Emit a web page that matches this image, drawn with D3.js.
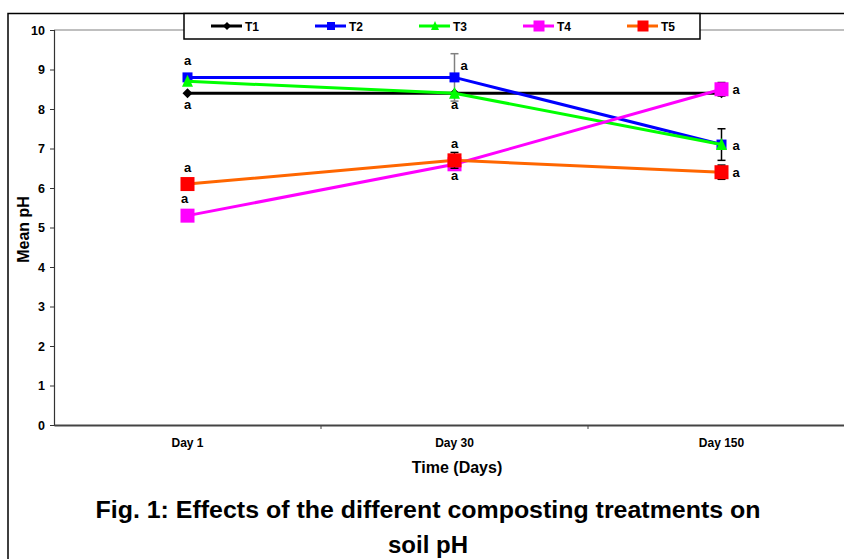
<!DOCTYPE html>
<html>
<head>
<meta charset="utf-8">
<title>Soil pH</title>
<script src="https://cdn.jsdelivr.net/npm/d3@7"></script>
<style>
  html, body { margin: 0; background: #fff; overflow: hidden; }
  svg { display: block; font-family: "Liberation Sans", Arial, sans-serif; font-weight: bold; }
</style>
</head>
<body>
<svg id="chart" width="844" height="559"></svg>
<script>
// data
const days = ["Day 1", "Day 30", "Day 150"];
const seriesNames = ["T1", "T2", "T3", "T4", "T5"];
const t1 = [8.4, 8.4, 8.4];
const t2 = [8.8, 8.8, 7.1];
const t3 = [8.7, 8.4, 7.1];
const t4 = [5.3, 6.6, 8.5];
const t5 = [6.1, 6.7, 6.4];
const t2Err = [0, 0.6, 0];
const t3Err = [0, 0, 0.4];
const t4Err = [0, 0, 0.17];
const t5Err = [0, 0.2, 0.18];
const yTicks = [0, 1, 2, 3, 4, 5, 6, 7, 8, 9, 10];
// significance letters: series, day index, where
const letters = [
  ["T2", 0, "above"], ["T1", 0, "below"], ["T5", 0, "above"], ["T4", 0, "aboveLeft"],
  ["T2", 1, "errRight"], ["T3", 1, "below"], ["T5", 1, "above"], ["T4", 1, "below"],
  ["T4", 2, "right"], ["T3", 2, "right"], ["T5", 2, "right"]
];

const series = [
  { name: "T1", values: t1, err: [0, 0, 0], line: "#000000", fill: "#000000", shape: "diamond", size: 10, errColor: "#000" },
  { name: "T2", values: t2, err: t2Err, line: "#0000ff", fill: "#0000ff", shape: "square", size: 10, errColor: "#808080" },
  { name: "T3", values: t3, err: t3Err, line: "#00ff00", fill: "#00ff00", shape: "triangle", size: 11, errColor: "#000" },
  { name: "T4", values: t4, err: t4Err, line: "#ff00ff", fill: "#ff00ff", shape: "square", size: 14, errColor: "#000" },
  { name: "T5", values: t5, err: t5Err, line: "#ff6600", fill: "#ff0000", shape: "square", size: 14, errColor: "#000" }
];

const svg = d3.select("#chart");
const plot = { left: 54, right: 855, top: 30, bottom: 425 };

const x = d3.scaleBand().domain(days).range([plot.left, plot.right]);
const y = d3.scaleLinear().domain([0, 10]).range([plot.bottom, plot.top]);
const cx = d => x(d) + x.bandwidth() / 2;

// figure frame
svg.append("path")
  .attr("d", `M8,559 V13.5 H844`)
  .attr("fill", "none").attr("stroke", "#000").attr("stroke-width", 1.5);

// plot area top edge
svg.append("line")
  .attr("x1", plot.left).attr("x2", 844).attr("y1", y(10)).attr("y2", y(10))
  .attr("stroke", "#aaa").attr("stroke-width", 1.5);

// y axis
const yAxis = svg.append("g")
  .attr("transform", `translate(${plot.left},0)`)
  .call(d3.axisLeft(y).tickValues(yTicks).tickSize(4).tickPadding(5));
yAxis.select(".domain").attr("stroke", "#333").attr("stroke-width", 1.2);
yAxis.selectAll(".tick line").attr("stroke", "#333");
yAxis.selectAll("text").attr("font-size", 12.5).attr("font-weight", "bold").attr("font-family", "Liberation Sans, Arial").attr("fill", "#000");

// x axis
const xAxis = svg.append("g")
  .attr("transform", `translate(0,${plot.bottom})`)
  .call(d3.axisBottom(x).tickSize(0).tickPadding(13));
xAxis.select(".domain").attr("stroke", "#444").attr("stroke-width", 2);
xAxis.selectAll("text").attr("font-size", 12).attr("font-weight", "bold").attr("font-family", "Liberation Sans, Arial").attr("fill", "#000");
xAxis.selectAll(".boundary")
  .data(days.slice(1))
  .join("line")
  .attr("x1", d => x(d)).attr("x2", d => x(d))
  .attr("y1", 0).attr("y2", 4)
  .attr("stroke", "#444");

// axis titles
svg.append("text")
  .attr("x", 457).attr("y", 473)
  .attr("text-anchor", "middle").attr("font-size", 16)
  .text("Time (Days)");
svg.append("text")
  .attr("transform", `translate(29,${(plot.top + plot.bottom) / 2 + 2}) rotate(-90)`)
  .attr("text-anchor", "middle").attr("font-size", 16)
  .text("Mean pH");

// caption
svg.append("text")
  .attr("x", 428).attr("y", 518)
  .attr("text-anchor", "middle").attr("font-size", 23)
  .attr("textLength", 665).attr("lengthAdjust", "spacingAndGlyphs")
  .text("Fig. 1: Effects of the different composting treatments on");
svg.append("text")
  .attr("x", 428).attr("y", 553)
  .attr("text-anchor", "middle").attr("font-size", 23)
  .attr("textLength", 80).attr("lengthAdjust", "spacingAndGlyphs")
  .text("soil pH");

function marker(sel, shape, size) {
  const h = size / 2;
  if (shape === "square") {
    sel.append("rect").attr("x", -h).attr("y", -h).attr("width", size).attr("height", size);
  } else if (shape === "diamond") {
    sel.append("path").attr("d", `M0,${-h} L${h},0 L0,${h} L${-h},0 Z`);
  } else {
    sel.append("path").attr("d", `M0,${-h - 1} L${h},${h} L${-h},${h} Z`);
  }
}

const line = d3.line().x((d, i) => cx(days[i])).y(d => y(d));

series.forEach(s => {
  const g = svg.append("g");
  // error bars
  s.err.forEach((e, i) => {
    if (!e) return;
    const px = cx(days[i]);
    const eg = g.append("g").attr("stroke", s.errColor).attr("stroke-width", 1.5);
    eg.append("line").attr("x1", px).attr("x2", px).attr("y1", y(s.values[i] + e)).attr("y2", y(s.values[i] - e));
    [s.values[i] + e, s.values[i] - e].forEach(v => {
      eg.append("line").attr("x1", px - 4).attr("x2", px + 4).attr("y1", y(v)).attr("y2", y(v));
    });
  });
  g.append("path")
    .attr("d", line(s.values))
    .attr("fill", "none").attr("stroke", s.line).attr("stroke-width", 3);
  s.values.forEach((v, i) => {
    const m = g.append("g")
      .attr("transform", `translate(${cx(days[i])},${y(v)})`)
      .attr("fill", s.fill);
    marker(m, s.shape, s.size);
  });
});

// letters
const byName = Object.fromEntries(series.map(s => [s.name, s]));
letters.forEach(([name, i, where]) => {
  const s = byName[name];
  const v = s.values[i];
  let px = cx(days[i]), py = y(v);
  let anchor = "middle";
  if (where === "above") py -= 12;
  else if (where === "aboveLeft") { py -= 13; px -= 3; }
  else if (where === "below") py += 16;
  else if (where === "right") { px += 11; py += 5; anchor = "start"; }
  else if (where === "errRight") { px += 6; py = y(v + s.err[i]) + 16; anchor = "start"; }
  svg.append("text")
    .attr("x", px).attr("y", py)
    .attr("text-anchor", anchor).attr("font-size", 13)
    .text("a");
});

// legend
const lg = svg.append("g");
lg.append("rect")
  .attr("x", 184).attr("y", 13.5).attr("width", 516).attr("height", 25.5)
  .attr("fill", "#fff").attr("stroke", "#000").attr("stroke-width", 1.5);
const lx = d3.scalePoint().domain(seriesNames).range([211, 627]);
series.forEach(s => {
  const item = lg.append("g").attr("transform", `translate(${lx(s.name)},26)`);
  item.append("line").attr("x1", 0).attr("x2", 31).attr("stroke", s.line).attr("stroke-width", 3);
  const m = item.append("g").attr("transform", "translate(16,0)").attr("fill", s.fill);
  marker(m, s.shape, s.name === "T4" || s.name === "T5" ? 11 : 8);
  item.append("text").attr("x", 34).attr("y", 4.5).attr("font-size", 12).text(s.name);
});
</script>
</body>
</html>
